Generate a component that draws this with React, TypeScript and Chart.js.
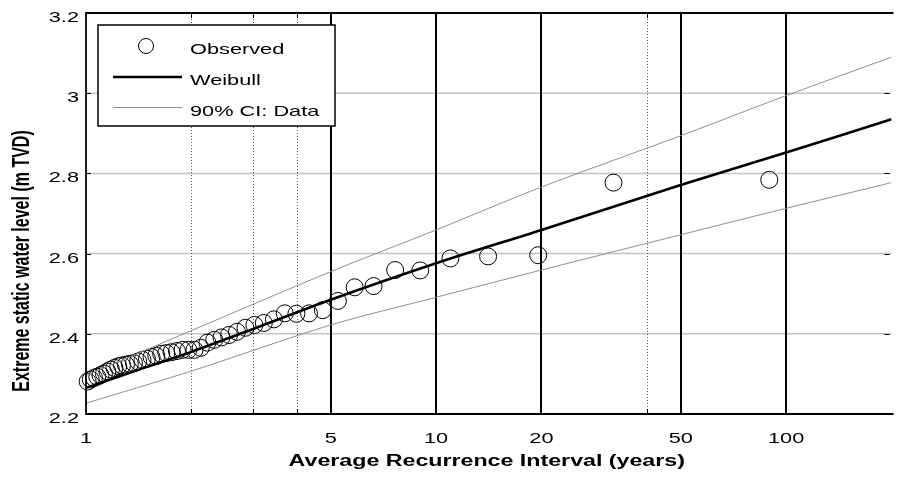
import React, { useEffect, useRef } from "react";
import { Chart, registerables } from "chart.js";

Chart.register(...registerables);

// ---- data ----
const ariObserved = [
  89.5, 32.13, 19.58, 14.08, 10.99, 9.014, 7.64, 6.63, 5.855, 5.243,
  4.746, 4.336, 3.99, 3.696, 3.442, 3.221, 3.027, 2.854, 2.7, 2.562,
  2.438, 2.325, 2.222, 2.127, 2.041, 1.961, 1.887, 1.819, 1.755, 1.696,
  1.64, 1.588, 1.539, 1.493, 1.45, 1.409, 1.371, 1.334, 1.3, 1.267,
  1.236, 1.206, 1.178, 1.151, 1.125, 1.1, 1.077, 1.054, 1.032, 1.011,
];
const levelObserved = [
  2.784, 2.777, 2.596, 2.593, 2.588, 2.558, 2.559, 2.519, 2.516, 2.482,
  2.459, 2.451, 2.45, 2.451, 2.436, 2.427, 2.422, 2.415, 2.405, 2.397,
  2.391, 2.385, 2.378, 2.365, 2.36, 2.36, 2.36, 2.357, 2.354, 2.352,
  2.35, 2.345, 2.342, 2.338, 2.335, 2.331, 2.327, 2.325, 2.323, 2.321,
  2.319, 2.315, 2.311, 2.306, 2.301, 2.297, 2.293, 2.29, 2.286, 2.281,
];
const ariFit = [1, 1.5, 2, 3, 5, 10, 20, 50, 100, 200];
const levelWeibull = [2.265, 2.318, 2.355, 2.412, 2.485, 2.576, 2.659, 2.771, 2.852, 2.935];
const ariCI = [1, 2, 5, 10, 20, 50, 100, 200];
const levelUpper = [2.296, 2.408, 2.555, 2.659, 2.766, 2.894, 2.994, 3.09];
const levelLower = [2.227, 2.307, 2.422, 2.491, 2.559, 2.647, 2.713, 2.777];

const xTickValues = [1, 5, 10, 20, 50, 100];
const xTickLabels = ["1", "5", "10", "20", "50", "100"];
const xMinorGrid = [2, 3, 4, 40];
const xMajorGrid = [5, 10, 20, 50, 100];
const xTickMarks = [2, 3, 4, 5, 10, 20, 40, 50, 100];
const yTickValues = [2.2, 2.4, 2.6, 2.8, 3.0, 3.2];
const yTickLabels = ["2.2", "2.4", "2.6", "2.8", "3", "3.2"];
const yGrid = [2.4, 2.6, 2.8, 3.0];
const legendLabels = ["Observed", "Weibull", "90% CI: Data"];
const xTitle = "Average Recurrence Interval (years)";
const yTitle = "Extreme static water level (m TVD)";

const FONT = '"Liberation Sans", Arial, sans-serif';
const SX = 1.45;

function stretched(
  ctx: CanvasRenderingContext2D,
  text: string,
  x: number,
  y: number,
  align: CanvasTextAlign,
  font: string
) {
  ctx.save();
  ctx.font = font;
  ctx.fillStyle = "#000";
  ctx.textAlign = align;
  ctx.textBaseline = "alphabetic";
  ctx.translate(x, y);
  ctx.scale(SX, 1);
  ctx.fillText(text, 0, 0);
  ctx.restore();
}

const decorPlugin = {
  id: "decor",
  beforeDatasetsDraw(chart: any) {
    const { ctx, chartArea: a, scales } = chart;
    const x = scales.x;
    const y = scales.y;
    ctx.save();
    ctx.beginPath();
    ctx.rect(a.left, a.top, a.right - a.left, a.bottom - a.top);
    ctx.clip();
    ctx.strokeStyle = "#c4c4c4";
    ctx.lineWidth = 1.5;
    for (const v of yGrid) {
      const py = y.getPixelForValue(v);
      ctx.beginPath();
      ctx.moveTo(a.left, py);
      ctx.lineTo(a.right, py);
      ctx.stroke();
    }
    ctx.strokeStyle = "#555";
    ctx.lineWidth = 1;
    ctx.setLineDash([1, 2]);
    for (const v of xMinorGrid) {
      const px = Math.round(x.getPixelForValue(v)) + 0.5;
      ctx.beginPath();
      ctx.moveTo(px, a.top);
      ctx.lineTo(px, a.bottom);
      ctx.stroke();
    }
    ctx.setLineDash([]);
    ctx.strokeStyle = "#000";
    ctx.lineWidth = 2;
    for (const v of xMajorGrid) {
      const px = Math.round(x.getPixelForValue(v));
      ctx.beginPath();
      ctx.moveTo(px, a.top);
      ctx.lineTo(px, a.bottom);
      ctx.stroke();
    }
    ctx.restore();
  },
  afterDatasetsDraw(chart: any) {
    const { ctx, chartArea: a, scales } = chart;
    const x = scales.x;
    const y = scales.y;
    ctx.save();
    // axes box (right side falls off the canvas edge)
    ctx.strokeStyle = "#000";
    ctx.lineWidth = 1.8;
    ctx.beginPath();
    ctx.moveTo(a.right + 2, a.top);
    ctx.lineTo(a.left, a.top);
    ctx.lineTo(a.left, a.bottom);
    ctx.lineTo(a.right + 2, a.bottom);
    ctx.stroke();
    // tick marks
    ctx.lineWidth = 1;
    const tl = 5;
    for (const v of xTickMarks) {
      const px = Math.round(x.getPixelForValue(v)) + 0.5;
      ctx.beginPath();
      ctx.moveTo(px, a.top);
      ctx.lineTo(px, a.top + tl);
      ctx.moveTo(px, a.bottom);
      ctx.lineTo(px, a.bottom - tl);
      ctx.stroke();
    }
    for (const v of yTickValues) {
      const py = Math.round(y.getPixelForValue(v)) + 0.5;
      ctx.beginPath();
      ctx.moveTo(a.left, py);
      ctx.lineTo(a.left + tl, py);
      ctx.moveTo(a.right - 2, py);
      ctx.lineTo(a.right - 2 - tl, py);
      ctx.stroke();
    }
    // legend
    const lx = a.left + 12;
    const ly = a.top + 12;
    const lw = 237;
    const lh = 101;
    ctx.fillStyle = "#fff";
    ctx.fillRect(lx, ly, lw, lh);
    ctx.strokeStyle = "#000";
    ctx.lineWidth = 1.5;
    ctx.strokeRect(lx, ly, lw, lh);
    ctx.lineWidth = 1;
    ctx.beginPath();
    ctx.arc(lx + 48, ly + 21, 7.5, 0, Math.PI * 2);
    ctx.stroke();
    ctx.lineWidth = 2.5;
    ctx.beginPath();
    ctx.moveTo(lx + 15, ly + 52);
    ctx.lineTo(lx + 84, ly + 52);
    ctx.stroke();
    ctx.strokeStyle = "#909090";
    ctx.lineWidth = 1;
    ctx.beginPath();
    ctx.moveTo(lx + 15, ly + 82.5);
    ctx.lineTo(lx + 84, ly + 82.5);
    ctx.stroke();
    const lf = `15px ${FONT}`;
    stretched(ctx, legendLabels[0], lx + 92, ly + 29, "left", lf);
    stretched(ctx, legendLabels[1], lx + 92, ly + 60, "left", lf);
    stretched(ctx, legendLabels[2], lx + 92, ly + 91, "left", lf);
    ctx.restore();
  },
  afterDraw(chart: any) {
    const { ctx, chartArea: a, scales } = chart;
    const x = scales.x;
    const y = scales.y;
    const tf = `15px ${FONT}`;
    xTickValues.forEach((v, i) => {
      stretched(ctx, xTickLabels[i], x.getPixelForValue(v), a.bottom + 29, "center", tf);
    });
    yTickValues.forEach((v, i) => {
      stretched(ctx, yTickLabels[i], a.left - 7, y.getPixelForValue(v) + 9, "right", tf);
    });
    stretched(ctx, xTitle, (a.left + a.right) / 2 - 2, a.bottom + 52, "center", `bold 16px ${FONT}`);
    ctx.save();
    ctx.font = `bold 16px ${FONT}`;
    ctx.fillStyle = "#000";
    ctx.textAlign = "center";
    ctx.textBaseline = "alphabetic";
    ctx.translate(29, 261);
    ctx.rotate(-Math.PI / 2);
    ctx.scale(1, SX);
    ctx.fillText(yTitle, 0, 0);
    ctx.restore();
  },
};

export default function App() {
  const ref = useRef<HTMLCanvasElement | null>(null);
  useEffect(() => {
    if (!ref.current) return;
    const chart = new Chart(ref.current, {
      type: "scatter",
      data: {
        datasets: [
          {
            label: "Weibull",
            data: ariFit.map((v, i) => ({ x: v, y: levelWeibull[i] })),
            showLine: true,
            borderColor: "#000",
            borderWidth: 2.5,
            pointRadius: 0,
            tension: 0.3,
          },
          {
            label: "90% CI upper",
            data: ariCI.map((v, i) => ({ x: v, y: levelUpper[i] })),
            showLine: true,
            borderColor: "#909090",
            borderWidth: 1,
            pointRadius: 0,
            tension: 0.3,
          },
          {
            label: "90% CI lower",
            data: ariCI.map((v, i) => ({ x: v, y: levelLower[i] })),
            showLine: true,
            borderColor: "#909090",
            borderWidth: 1,
            pointRadius: 0,
            tension: 0.3,
          },
          {
            label: "Observed",
            data: ariObserved.map((v, i) => ({ x: v, y: levelObserved[i] })),
            showLine: false,
            pointRadius: 8.5,
            pointBorderWidth: 1,
            pointBorderColor: "#000",
            pointBackgroundColor: "rgba(0,0,0,0)",
            clip: false as any,
          },
        ],
      },
      options: {
        responsive: false,
        animation: false,
        events: [],
        layout: { padding: { top: 13, right: 0, left: 0, bottom: 0 } },
        plugins: { legend: { display: false }, tooltip: { enabled: false } },
        scales: {
          x: {
            type: "logarithmic",
            min: 1,
            max: 200,
            grid: { display: false },
            border: { display: false },
            ticks: { display: false },
            afterFit: (s: any) => {
              s.height = 64;
            },
          },
          y: {
            type: "linear",
            min: 2.2,
            max: 3.2,
            grid: { display: false },
            border: { display: false },
            ticks: { display: false },
            afterFit: (s: any) => {
              s.width = 86;
            },
          },
        },
      },
      plugins: [decorPlugin],
    });
    return () => chart.destroy();
  }, []);
  return (
    <div style={{ position: "absolute", left: 0, top: 0, width: 901, height: 478, background: "#fff" }}>
      <canvas ref={ref} width={901} height={478} style={{ display: "block" }} />
    </div>
  );
}
